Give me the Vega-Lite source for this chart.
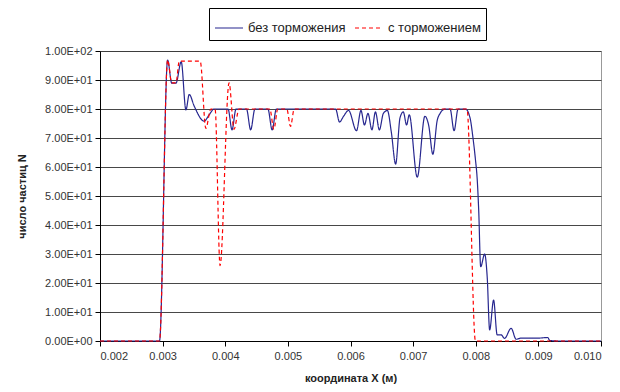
{
  "$schema": "https://vega.github.io/schema/vega-lite/v6.json",
  "autosize": "none",
  "width": 501,
  "height": 290,
  "padding": {"left": 100, "top": 51, "right": 19, "bottom": 51},
  "background": "white",
  "config": {
    "font": "Liberation Sans",
    "view": {"stroke": "#999999", "strokeWidth": 1},
    "axis": {"labelFont": "Liberation Sans", "titleFont": "Liberation Sans", "labelColor": "#333333", "titleColor": "#222222"}
  },
  "data": {
    "values": [
      {"x": 0.002, "n": 0, "s": "без торможения"},
      {"x": 0.00295, "n": 0, "s": "без торможения"},
      {"x": 0.00308, "n": 96.9, "s": "без торможения"},
      {"x": 0.003146, "n": 88.9, "s": "без торможения"},
      {"x": 0.003213, "n": 88.9, "s": "без торможения"},
      {"x": 0.003297, "n": 96.3, "s": "без торможения"},
      {"x": 0.003372, "n": 79.7, "s": "без торможения"},
      {"x": 0.003425, "n": 85, "s": "без торможения"},
      {"x": 0.003504, "n": 81, "s": "без торможения"},
      {"x": 0.003663, "n": 75.8, "s": "без торможения"},
      {"x": 0.003743, "n": 78, "s": "без торможения"},
      {"x": 0.003822, "n": 80, "s": "без торможения"},
      {"x": 0.004045, "n": 80, "s": "без торможения"},
      {"x": 0.004108, "n": 72.8, "s": "без торможения"},
      {"x": 0.004172, "n": 80, "s": "без торможения"},
      {"x": 0.004339, "n": 80, "s": "без торможения"},
      {"x": 0.004406, "n": 72.8, "s": "без торможения"},
      {"x": 0.004474, "n": 80, "s": "без торможения"},
      {"x": 0.004681, "n": 80, "s": "без торможения"},
      {"x": 0.004749, "n": 72.8, "s": "без торможения"},
      {"x": 0.004816, "n": 80, "s": "без торможения"},
      {"x": 0.005762, "n": 80, "s": "без торможения"},
      {"x": 0.005825, "n": 75.5, "s": "без торможения"},
      {"x": 0.005889, "n": 77.5, "s": "без торможения"},
      {"x": 0.005969, "n": 79.5, "s": "без торможения"},
      {"x": 0.006096, "n": 72.5, "s": "без торможения"},
      {"x": 0.006167, "n": 79.5, "s": "без торможения"},
      {"x": 0.006223, "n": 74.5, "s": "без торможения"},
      {"x": 0.006279, "n": 78.5, "s": "без торможения"},
      {"x": 0.006342, "n": 72.8, "s": "без торможения"},
      {"x": 0.006398, "n": 79, "s": "без торможения"},
      {"x": 0.006461, "n": 72.8, "s": "без торможения"},
      {"x": 0.006525, "n": 78.5, "s": "без торможения"},
      {"x": 0.006589, "n": 79.5, "s": "без торможения"},
      {"x": 0.006652, "n": 72, "s": "без торможения"},
      {"x": 0.006721, "n": 61, "s": "без торможения"},
      {"x": 0.006791, "n": 77, "s": "без торможения"},
      {"x": 0.006843, "n": 79, "s": "без торможения"},
      {"x": 0.006896, "n": 74.5, "s": "без торможения"},
      {"x": 0.006938, "n": 78, "s": "без торможения"},
      {"x": 0.007066, "n": 56.5, "s": "без торможения"},
      {"x": 0.007188, "n": 77.5, "s": "без торможения"},
      {"x": 0.007249, "n": 74.3, "s": "без торможения"},
      {"x": 0.007315, "n": 64.4, "s": "без торможения"},
      {"x": 0.007384, "n": 76, "s": "без торможения"},
      {"x": 0.007431, "n": 78.5, "s": "без торможения"},
      {"x": 0.007511, "n": 80, "s": "без торможения"},
      {"x": 0.00759, "n": 80, "s": "без торможения"},
      {"x": 0.007654, "n": 72.5, "s": "без торможения"},
      {"x": 0.007718, "n": 80, "s": "без торможения"},
      {"x": 0.007837, "n": 80, "s": "без торможения"},
      {"x": 0.007908, "n": 77, "s": "без торможения"},
      {"x": 0.007956, "n": 70, "s": "без торможения"},
      {"x": 0.007993, "n": 63, "s": "без торможения"},
      {"x": 0.008024, "n": 55.5, "s": "без торможения"},
      {"x": 0.008047, "n": 45.2, "s": "без торможения"},
      {"x": 0.008079, "n": 25.6, "s": "без торможения"},
      {"x": 0.008142, "n": 30, "s": "без торможения"},
      {"x": 0.008183, "n": 22, "s": "без торможения"},
      {"x": 0.008222, "n": 3.8, "s": "без торможения"},
      {"x": 0.008285, "n": 14.1, "s": "без торможения"},
      {"x": 0.008342, "n": 2.1, "s": "без торможения"},
      {"x": 0.008406, "n": 2.1, "s": "без торможения"},
      {"x": 0.00846, "n": 0.9, "s": "без торможения"},
      {"x": 0.008565, "n": 4.4, "s": "без торможения"},
      {"x": 0.008645, "n": 0.6, "s": "без торможения"},
      {"x": 0.008724, "n": 1, "s": "без торможения"},
      {"x": 0.00899, "n": 1, "s": "без торможения"},
      {"x": 0.009149, "n": 1.2, "s": "без торможения"},
      {"x": 0.00918, "n": 0.2, "s": "без торможения"},
      {"x": 0.009308, "n": 0, "s": "без торможения"},
      {"x": 0.01, "n": 0, "s": "без торможения"},
      {"x": 0.002, "n": 0, "s": "с торможением"},
      {"x": 0.00295, "n": 0, "s": "с торможением"},
      {"x": 0.00308, "n": 96.9, "s": "с торможением"},
      {"x": 0.003146, "n": 89, "s": "с торможением"},
      {"x": 0.003213, "n": 89, "s": "с торможением"},
      {"x": 0.003266, "n": 96.5, "s": "с торможением"},
      {"x": 0.0036, "n": 96.5, "s": "с торможением"},
      {"x": 0.00369, "n": 73.3, "s": "с торможением"},
      {"x": 0.00377, "n": 80, "s": "с торможением"},
      {"x": 0.003838, "n": 80, "s": "с торможением"},
      {"x": 0.003917, "n": 26, "s": "с торможением"},
      {"x": 0.004061, "n": 89, "s": "с торможением"},
      {"x": 0.00414, "n": 73, "s": "с торможением"},
      {"x": 0.00422, "n": 80, "s": "с торможением"},
      {"x": 0.004712, "n": 80, "s": "с торможением"},
      {"x": 0.004776, "n": 73, "s": "с торможением"},
      {"x": 0.004839, "n": 80, "s": "с торможением"},
      {"x": 0.004983, "n": 80, "s": "с торможением"},
      {"x": 0.005042, "n": 74, "s": "с торможением"},
      {"x": 0.005102, "n": 80, "s": "с торможением"},
      {"x": 0.00786, "n": 80, "s": "с торможением"},
      {"x": 0.007995, "n": 0, "s": "с торможением"},
      {"x": 0.01, "n": 0, "s": "с торможением"}
    ]
  },
  "mark": {"type": "line", "strokeWidth": 1.2, "interpolate": "monotone"},
  "encoding": {
    "x": {
      "field": "x", "type": "quantitative",
      "scale": {"domain": [0.002, 0.01], "nice": false, "zero": false},
      "axis": {
        "values": [0.002, 0.003, 0.004, 0.005, 0.006, 0.007, 0.008, 0.009, 0.01],
        "format": ".3f", "grid": false,
        "domainColor": "#000000", "tickColor": "#000000", "tickSize": 5,
        "labelFontSize": 11, "labelPadding": 4,
        "title": "координата X (м)", "titleFontSize": 11, "titleFontWeight": "bold", "titlePadding": 11
      }
    },
    "y": {
      "field": "n", "type": "quantitative",
      "scale": {"domain": [0, 100], "nice": false},
      "axis": {
        "values": [0, 10, 20, 30, 40, 50, 60, 70, 80, 90, 100],
        "labelExpr": "datum.value == 0 ? '0.00E+00' : datum.value == 100 ? '1.00E+02' : format(datum.value / 10, '.2f') + 'E+01'",
        "grid": true, "gridColor": "#333333", "gridWidth": 1, "gridOpacity": 0.9,
        "domainColor": "#000000", "tickColor": "#000000", "tickSize": 5,
        "labelFontSize": 11, "labelPadding": 3,
        "title": "число частиц N", "titleFontSize": 11, "titleFontWeight": "bold", "titlePadding": 17
      }
    },
    "color": {
      "field": "s", "type": "nominal",
      "scale": {"domain": ["без торможения", "с торможением"], "range": ["#27278f", "#ff0000"]},
      "legend": {
        "title": null, "orient": "none", "legendX": 109, "legendY": -43, "direction": "horizontal",
        "strokeColor": "#000000", "fillColor": "#ffffff", "padding": 5,
        "symbolType": "stroke", "symbolSize": 784, "symbolStrokeWidth": 1.2,
        "labelFontSize": 13, "labelOffset": 4, "columnPadding": 6, "labelColor": "#222222"
      }
    },
    "strokeDash": {
      "field": "s", "type": "nominal",
      "scale": {"domain": ["без торможения", "с торможением"], "range": [[1, 0], [4, 3]]},
      "legend": {
        "title": null, "orient": "none", "legendX": 109, "legendY": -43, "direction": "horizontal",
        "strokeColor": "#000000", "fillColor": "#ffffff", "padding": 5,
        "symbolType": "stroke", "symbolSize": 784, "symbolStrokeWidth": 1.2,
        "labelFontSize": 13, "labelOffset": 4, "columnPadding": 6, "labelColor": "#222222"
      }
    }
  }
}
